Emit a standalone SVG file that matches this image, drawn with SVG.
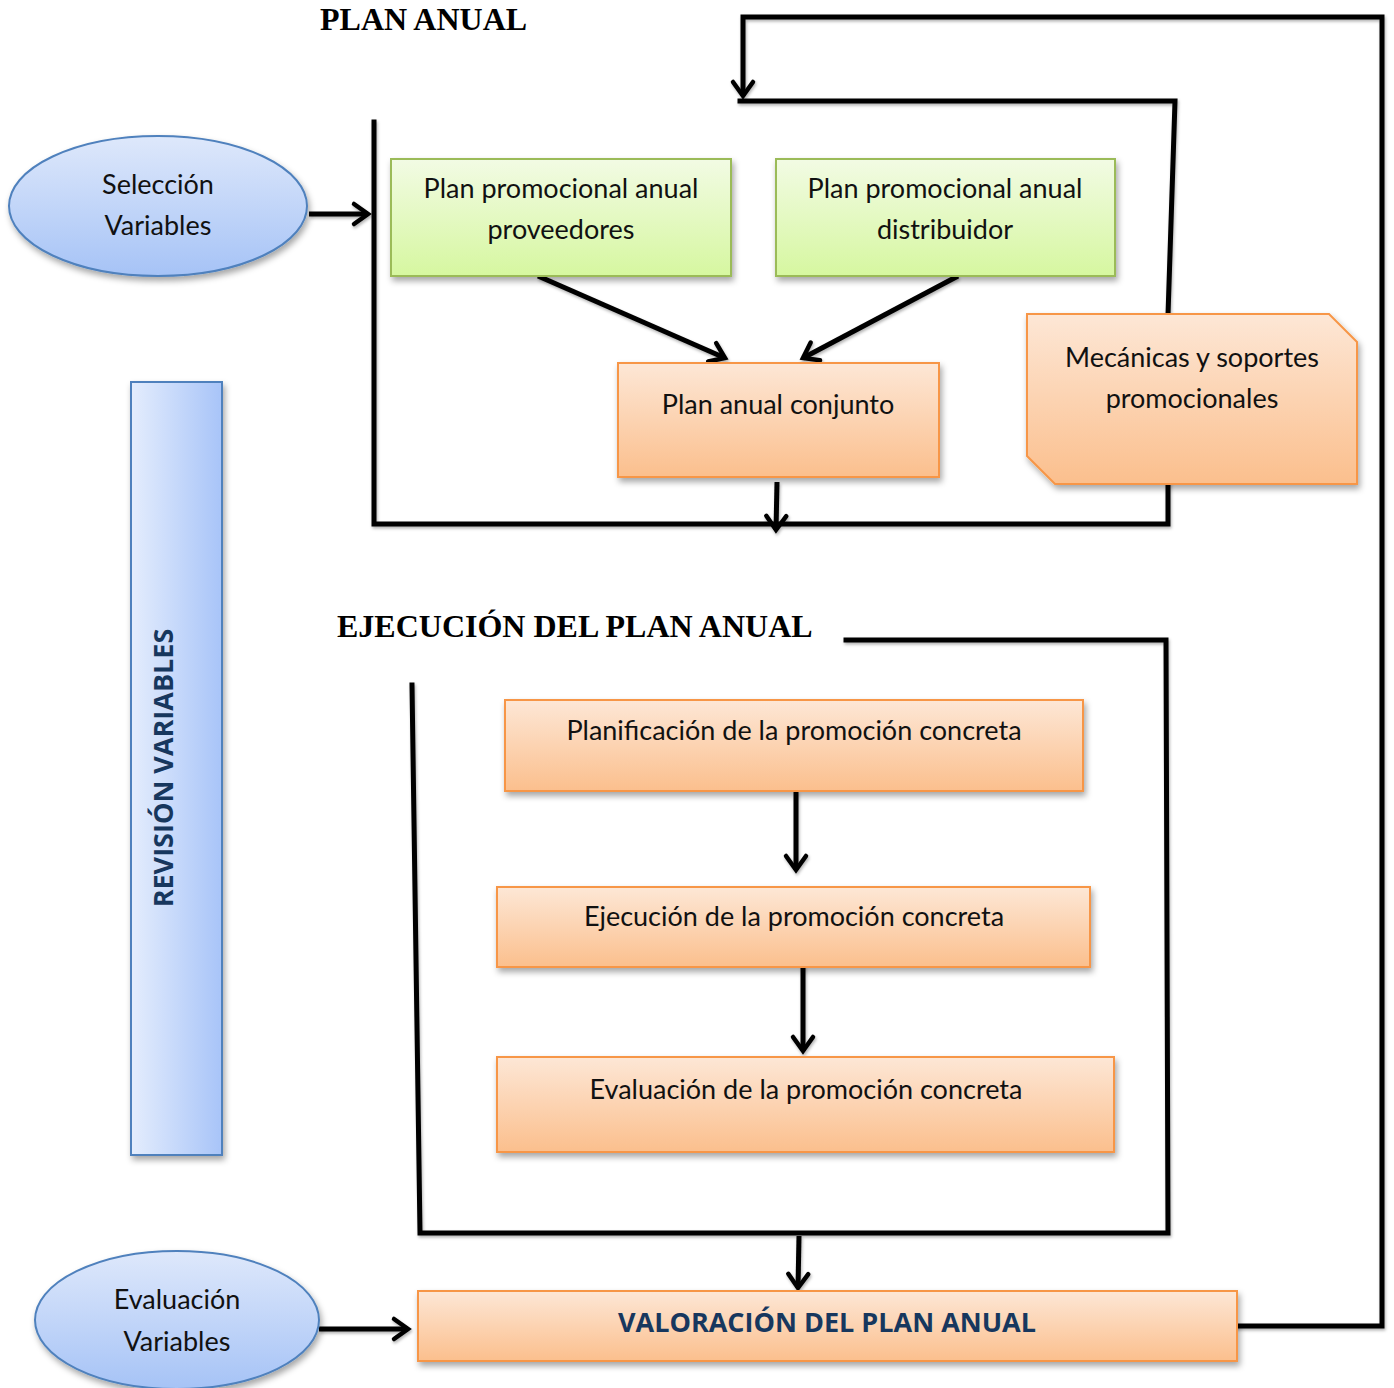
<svg xmlns="http://www.w3.org/2000/svg" width="1394" height="1388" viewBox="0 0 1394 1388">
<defs>
<linearGradient id="gOr" x1="0" y1="0" x2="0" y2="1"><stop offset="0" stop-color="#FDE7D6"/><stop offset="1" stop-color="#FBBF8D"/></linearGradient>
<linearGradient id="gGr" x1="0" y1="0" x2="0" y2="1"><stop offset="0" stop-color="#F2FBE4"/><stop offset="1" stop-color="#D6F7A0"/></linearGradient>
<linearGradient id="gBl" x1="0" y1="0" x2="0" y2="1"><stop offset="0" stop-color="#DEE8FB"/><stop offset="1" stop-color="#A6C3F6"/></linearGradient>
<linearGradient id="gBar" x1="0" y1="0" x2="1" y2="0"><stop offset="0" stop-color="#E4EDFD"/><stop offset="1" stop-color="#A8C4F8"/></linearGradient>
<filter id="sh" x="-10%" y="-10%" width="125%" height="130%"><feDropShadow dx="2" dy="4" stdDeviation="3" flood-color="#000" flood-opacity="0.35"/></filter>
<filter id="lsh" filterUnits="userSpaceOnUse" x="0" y="0" width="1394" height="1388"><feDropShadow dx="1" dy="2" stdDeviation="1.5" flood-color="#000" flood-opacity="0.3"/></filter>
<marker id="ah" markerUnits="userSpaceOnUse" viewBox="-20 -14 24 28" refX="0" refY="0" markerWidth="24" markerHeight="28" orient="auto" overflow="visible">
<path d="M-14,-10 L0,0 L-14,10" fill="none" stroke="#000" stroke-width="4.5" stroke-linecap="round" stroke-linejoin="miter"/>
</marker>
</defs>
<style>
.or{fill:url(#gOr);stroke:#F79646;stroke-width:2;filter:url(#sh)}
.gr{fill:url(#gGr);stroke:#9BBB59;stroke-width:2;filter:url(#sh)}
.el{fill:url(#gBl);stroke:#4F81BD;stroke-width:2;filter:url(#sh)}
.t{font-family:Lato,"Open Sans","Liberation Sans",sans-serif;font-size:27px;fill:#111;text-anchor:middle}
.ttl{font-family:"Liberation Serif","Times New Roman",serif;font-weight:bold;font-size:32px;fill:#000}
.b{font-family:"Open Sans","Liberation Sans",sans-serif;font-weight:bold;fill:#17375E;text-anchor:middle}
.ln{fill:none;stroke:#000;stroke-width:5;stroke-linecap:square;stroke-linejoin:miter}
.ar{fill:none;stroke:#000;stroke-width:5;marker-end:url(#ah)}
</style>

<text class="ttl" x="320" y="30">PLAN ANUAL</text>
<text class="ttl" x="337" y="637">EJECUCIÓN DEL PLAN ANUAL</text>

<g id="connectors" filter="url(#lsh)">
<path class="ln" d="M374,122 L374,524 L1168,524 L1168,484"/>
<path class="ln" d="M1168,315 L1175,101 L740,101"/>
<path class="ar" d="M1233,1326 L1382,1326 L1382,17 L743,17 L743,96"/>
<path class="ln" d="M846,640 L1166,640 L1168,1233 L420,1233 L412,685"/>
<path class="ar" d="M309,214 L368,214"/>
<path class="ar" d="M538,276 L725,358"/>
<path class="ar" d="M958,276 L803,358"/>
<path class="ar" d="M777,482 L776,530"/>
<path class="ar" d="M796,791 L796,870"/>
<path class="ar" d="M803,965 L803,1051"/>
<path class="ar" d="M799,1236 L798,1288"/>
<path class="ar" d="M319,1329 L408,1329"/>
</g>

<g id="seleccion">
<ellipse class="el" cx="158" cy="206" rx="149" ry="70"/>
<text class="t" x="158" y="194">Selección</text>
<text class="t" x="158" y="235">Variables</text>
</g>

<g id="proveedores">
<rect class="gr" x="391" y="159" width="340" height="117"/>
<text class="t" x="561" y="198">Plan promocional anual</text>
<text class="t" x="561" y="239">proveedores</text>
</g>

<g id="distribuidor">
<rect class="gr" x="776" y="159" width="339" height="117"/>
<text class="t" x="945" y="198">Plan promocional anual</text>
<text class="t" x="945" y="239">distribuidor</text>
</g>

<g id="conjunto">
<rect class="or" x="618" y="363" width="321" height="114"/>
<text class="t" x="778" y="414">Plan anual conjunto</text>
</g>

<g id="mecanicas">
<path class="or" d="M1027,314 L1329,314 L1357,342 L1357,484 L1055,484 L1027,456 Z"/>
<text class="t" x="1192" y="367">Mecánicas y soportes</text>
<text class="t" x="1192" y="408">promocionales</text>
</g>

<g id="revision">
<rect x="131" y="382" width="91" height="773" fill="url(#gBar)" stroke="#4F81BD" stroke-width="2" filter="url(#sh)"/>
<text class="b" transform="translate(173,768) rotate(-90)" font-size="27">REVISIÓN VARIABLES</text>
</g>

<g id="planificacion">
<rect class="or" x="505" y="700" width="578" height="91"/>
<text class="t" x="794" y="740">Planificación de la promoción concreta</text>
</g>

<g id="ejecucion">
<rect class="or" x="497" y="887" width="593" height="80"/>
<text class="t" x="794" y="926">Ejecución de la promoción concreta</text>
</g>

<g id="evaluacion">
<rect class="or" x="497" y="1057" width="617" height="95"/>
<text class="t" x="806" y="1099">Evaluación de la promoción concreta</text>
</g>

<g id="valoracion">
<rect class="or" x="418" y="1291" width="819" height="70"/>
<text class="b" x="827" y="1332" font-size="27">VALORACIÓN DEL PLAN ANUAL</text>
</g>

<g id="evalvariables">
<ellipse class="el" cx="177" cy="1320" rx="142" ry="69"/>
<text class="t" x="177" y="1309">Evaluación</text>
<text class="t" x="177" y="1351">Variables</text>
</g>
</svg>
